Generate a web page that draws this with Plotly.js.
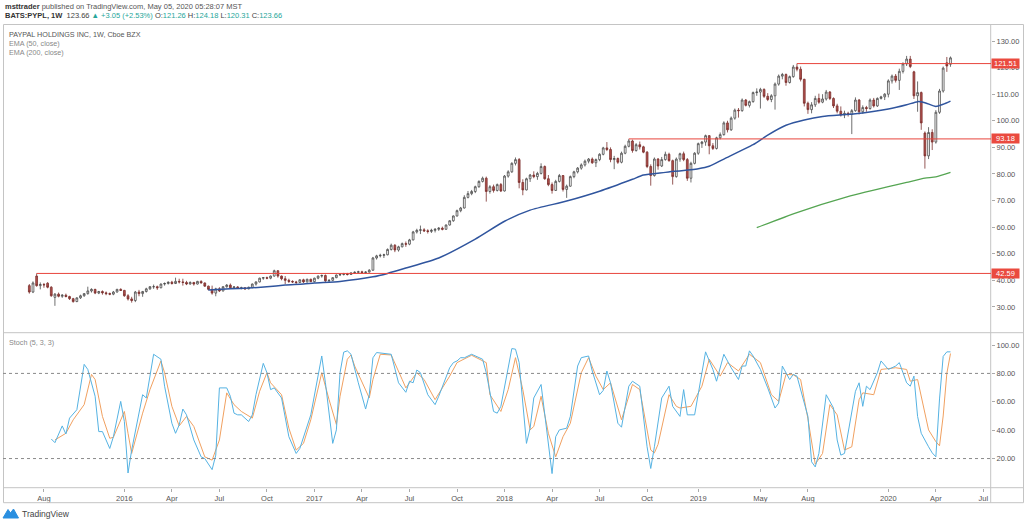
<!DOCTYPE html>
<html><head><meta charset="utf-8">
<script src="https://cdn.plot.ly/plotly-3.0.1.min.js"></script>
<style>html,body{margin:0;padding:0;background:#fff;}#chart{width:1024px;height:524px;}</style>
</head><body><div id="chart"></div>
<script>
// ---- DATA (weekly bars, BATS:PYPL, from week of 2015-07-06) ----
const firstWeek = '2015-07-06';
const opens = [
38.0,35.6,41.6,38.0,38.4,38.9,37.4,33.6,34.8,34.0,
34.4,33.9,33.1,32.0,33.4,34.2,35.0,36.0,36.6,35.2,
35.8,35.3,35.0,34.8,35.6,36.6,36.2,34.2,33.0,32.4,
35.6,35.0,35.8,36.8,37.6,37.6,37.2,38.6,38.8,39.3,
38.8,39.6,39.4,39.2,38.6,39.2,38.6,39.6,39.0,37.8,
36.6,35.2,36.8,36.0,37.6,38.2,37.2,37.5,37.0,37.2,
36.8,37.4,38.6,39.4,40.8,41.0,40.8,41.6,43.6,41.6,
40.6,40.0,39.6,39.4,39.2,40.2,39.4,40.4,39.5,40.8,
41.6,41.8,39.8,40.0,41.0,42.0,42.2,42.4,42.2,42.8,
43.0,43.2,42.9,43.1,43.8,48.4,49.2,49.4,49.6,51.6,
53.2,51.4,52.6,53.8,53.6,55.2,58.2,58.8,59.0,58.6,
58.4,58.8,59.2,59.6,59.2,60.8,62.4,64.2,66.2,67.2,
71.2,72.6,73.4,75.2,77.2,78.4,73.4,75.2,73.8,76.0,
73.6,79.2,80.8,84.0,85.4,76.8,74.0,78.2,79.6,79.0,
80.2,82.8,78.2,76.0,73.8,77.2,79.4,74.2,75.4,79.0,
80.8,82.2,83.4,84.8,85.6,84.2,85.4,87.4,89.8,89.2,
85.4,85.8,84.4,87.8,90.4,92.4,88.8,91.0,90.2,88.2,
82.8,79.4,85.6,83.0,85.4,87.4,85.0,79.0,85.6,87.6,
85.4,78.4,84.0,87.8,91.4,92.0,94.4,90.6,89.6,93.6,
94.8,99.2,96.6,101.0,104.0,103.8,107.8,105.8,107.2,110.6,
110.8,111.8,109.2,108.0,109.4,113.8,116.8,117.4,114.4,116.6,
120.2,119.4,115.6,106.6,104.2,106.0,108.4,107.0,108.2,110.8,
108.4,105.6,103.6,102.2,102.8,102.4,103.8,107.8,103.4,105.0,
104.6,107.8,105.6,108.4,109.0,110.0,115.0,116.8,115.2,118.6,
121.4,123.2,118.4,109.4,110.6,95.4,86.8,95.6,92.0,103.2,
111.2,121.8,121.26];
const highs = [
38.6,39.6,42.59,39.2,39.0,39.3,37.8,35.2,35.4,34.8,
35.0,34.2,33.4,33.6,34.6,35.2,37.6,37.0,36.8,36.0,
36.2,35.8,35.4,36.0,36.8,37.0,36.4,34.8,33.8,36.0,
36.4,36.0,37.2,37.8,38.4,38.0,38.8,39.2,39.6,39.8,
41.0,40.6,40.6,39.8,39.6,39.4,39.8,40.0,39.2,38.0,
38.0,37.2,37.4,37.8,38.6,38.8,37.8,37.8,37.6,37.4,
37.6,38.8,39.6,41.0,41.2,41.4,41.8,44.0,43.8,41.8,
41.6,40.6,40.0,39.8,40.4,40.6,40.6,40.6,41.0,41.8,
42.2,42.2,40.4,41.2,42.2,42.6,42.8,42.8,43.0,43.4,
43.6,43.6,43.4,44.2,48.8,49.6,50.0,50.0,52.0,53.8,
53.6,53.0,54.2,54.6,55.6,58.6,59.4,60.6,59.6,59.2,
59.4,59.6,60.0,60.2,61.0,62.6,64.4,66.6,67.6,72.0,
73.6,74.0,75.6,77.6,79.0,79.0,75.8,76.0,76.4,76.6,
79.6,81.4,84.4,86.2,86.0,78.0,78.6,80.0,81.0,80.8,
84.0,83.2,79.6,76.8,77.8,80.0,79.6,76.0,79.4,81.2,
82.6,84.0,85.4,86.0,86.2,85.8,87.8,90.2,92.0,90.0,
86.8,86.2,88.4,91.0,93.18,92.9,91.6,92.2,90.6,88.6,
83.6,86.2,86.0,86.4,88.4,88.0,85.4,86.2,88.0,88.4,
86.0,84.6,88.2,91.8,92.4,94.8,94.6,91.6,94.0,95.6,
99.8,100.0,101.6,104.6,104.8,108.4,108.2,107.6,111.0,112.2,
112.4,112.2,110.4,110.0,114.4,117.4,118.0,117.8,117.0,121.0,
121.51,120.4,115.8,107.2,107.0,109.4,110.2,110.0,111.6,111.2,
108.8,106.4,105.4,103.8,103.4,104.4,108.8,108.2,105.8,105.6,
108.4,108.6,108.8,109.4,110.4,115.6,117.4,117.6,119.6,122.0,
124.4,124.4,118.8,114.8,111.0,96.0,97.6,96.8,104.0,112.0,
120.4,124.0,124.18];
const lows = [
35.0,35.2,37.6,36.6,37.2,37.0,33.8,30.4,33.6,33.4,
33.6,32.6,31.6,31.8,33.0,33.8,34.6,35.4,34.8,34.8,
34.6,34.4,34.4,34.4,35.4,36.0,33.8,32.4,31.6,31.8,
34.0,33.8,35.4,36.4,36.8,36.4,37.0,38.0,38.4,38.4,
38.6,38.8,38.0,38.2,38.4,38.0,38.4,38.8,37.6,36.2,
34.6,34.0,35.6,35.8,37.2,36.8,36.8,36.9,36.6,36.4,
36.6,37.0,38.0,39.2,40.2,40.4,40.4,41.4,41.0,40.0,
38.6,39.0,39.0,38.6,39.0,39.0,39.2,39.4,39.2,40.4,
41.0,39.4,39.2,39.8,40.8,41.6,41.8,41.8,42.0,42.4,
42.6,42.6,42.4,42.9,43.6,47.8,48.6,48.4,49.4,51.2,
50.6,50.8,52.4,52.6,53.2,55.0,57.6,57.4,58.2,57.6,
57.8,58.0,58.6,58.8,59.0,60.6,62.0,64.0,65.6,67.0,
70.8,72.0,72.8,74.8,76.8,69.6,72.6,73.0,73.4,73.2,
73.4,78.6,80.4,83.2,74.6,72.0,73.8,77.0,78.4,77.8,
79.8,77.8,75.4,72.6,73.6,76.8,73.4,71.0,75.2,78.4,
80.2,81.6,82.8,84.0,83.8,82.6,84.8,87.0,88.6,84.4,
81.8,83.8,84.0,87.4,90.0,88.0,88.4,89.2,87.8,82.2,
75.6,79.0,81.6,82.6,85.0,84.6,76.0,78.6,84.6,84.8,
77.4,76.8,83.6,87.2,89.8,90.6,87.4,89.0,89.2,93.0,
94.4,95.6,96.2,100.4,101.2,103.4,105.4,105.0,106.8,109.4,
104.6,108.6,107.4,107.0,104.2,113.2,115.6,113.2,114.0,116.2,
118.6,114.8,105.4,102.6,102.8,105.2,106.4,106.6,107.6,107.8,
104.8,102.8,101.6,101.0,101.6,95.0,103.4,102.4,102.6,103.4,
104.2,105.0,105.2,108.0,107.8,108.8,114.0,114.4,111.6,117.8,
120.6,119.8,108.2,103.4,96.6,82.0,85.6,89.0,91.4,102.6,
110.6,118.4,120.31];
const closes = [
35.6,39.0,38.0,38.4,38.3,37.4,34.2,34.8,34.0,34.4,
33.9,33.1,32.0,33.4,34.2,35.0,36.0,36.6,35.2,35.8,
35.3,35.0,34.8,35.6,36.6,36.2,34.2,33.0,32.4,35.6,
35.0,35.8,36.8,37.6,37.6,37.2,38.6,38.8,39.3,38.8,
39.6,39.4,39.2,38.6,39.2,38.6,39.6,39.0,37.8,36.6,
35.2,36.8,36.0,37.6,38.2,37.2,37.5,37.0,37.2,36.8,
37.4,38.6,39.4,40.8,41.0,40.8,41.6,43.6,41.6,40.6,
40.0,39.6,39.4,39.2,40.2,39.4,40.4,39.5,40.8,41.6,
41.8,39.8,40.0,41.0,42.0,42.2,42.4,42.2,42.8,43.0,
43.2,42.9,43.1,43.8,48.4,49.2,49.4,49.6,51.6,53.2,
51.4,52.6,53.8,53.6,55.2,58.2,58.8,59.0,58.6,58.4,
58.8,59.2,59.6,59.2,60.8,62.4,64.2,66.2,67.2,71.2,
72.6,73.4,75.2,77.2,78.4,73.4,75.2,73.8,76.0,73.6,
79.2,80.8,84.0,85.4,76.8,74.0,78.2,79.6,79.0,80.2,
82.8,78.2,76.0,73.8,77.2,79.4,74.2,75.4,79.0,80.8,
82.2,83.4,84.8,85.6,84.2,85.4,87.4,89.8,89.2,85.4,
85.8,84.4,87.8,90.4,92.4,88.8,91.0,90.2,88.2,82.8,
79.4,85.6,83.0,85.4,87.4,85.0,79.0,85.6,87.6,85.4,
78.4,84.0,87.8,91.4,92.0,94.4,90.6,89.6,93.6,94.8,
99.2,96.6,101.0,104.0,103.8,107.8,105.8,107.2,110.6,110.8,
111.8,109.2,108.0,109.4,113.8,116.8,117.4,114.4,116.6,120.2,
119.4,115.6,106.6,104.2,106.0,108.4,107.0,108.2,110.8,108.4,
105.6,103.6,102.2,102.8,102.4,103.8,107.8,103.4,105.0,104.6,
107.8,105.6,108.4,109.0,110.0,115.0,116.8,115.2,118.6,121.4,
123.2,120.4,109.4,110.6,99.2,86.8,95.6,92.0,103.2,111.2,
119.8,120.61,123.66];

// EMA lines: [week index, value]
const ema50 = [[49,36.4],[55,36.8],[60,37.1],[65,37.6],[70,38.2],[75,38.6],[78,39.0],[85,39.6],[94,41.3],[98,42.6],[103,44.6],[112,48.4],[122,55.5],[130,62.2],[137,66.4],[147,69.8],[156,73.5],[165,78.0],[168,79.6],[174,80.6],[183,82.0],[186,82.9],[190,85.6],[198,91.0],[202,94.6],[207,98.3],[212,100.3],[217,101.6],[226,102.6],[235,104.4],[240,106.0],[243,107.2],[245,106.8],[248,105.4],[250,106.2],[252,107.4]];
const ema200 = [[199,59.8],[210,65.5],[223,71.1],[235,75.2],[240,76.8],[245,78.4],[248,78.9],[252,80.6]];

// Stochastic (5,3,3): [week index, value]
const stochK = [[6,33.8],[7,31.2],[9,43],[10,37.3],[11,48.5],[13,54.4],[15,86.4],[16,82.8],[18,63.9],[19,39],[20,39],[22,27.1],[23,35.4],[25,60.3],[26,46.1],[27,9.8],[28,26],[30,53.2],[31,65],[32,62.7],[33,76.9],[34,93.5],[36,90],[37,71],[39,44.9],[40,37.8],[41,43.7],[42,54.9],[43,50.8],[45,33.1],[47,21.2],[48,20],[50,12.2],[51,22.4],[52,69.8],[54,69.8],[55,63.9],[56,52],[57,50.8],[58,50.8],[60,46.1],[61,50.8],[62,65],[64,87.1],[65,80.5],[66,68.6],[67,69.8],[69,62.7],[71,35.4],[73,23.6],[74,27.1],[76,43.7],[77,50.8],[80,92.3],[81,73.4],[83,30.7],[84,40.2],[85,80.5],[86,95],[87,95.9],[88,93.5],[90,73.4],[92,54.9],[93,65],[94,91],[95,94.7],[99,93.5],[101,73.4],[103,66.7],[104,74.5],[105,73.4],[106,82.4],[107,80.5],[109,65],[111,58],[112,63.9],[115,84],[116,87.6],[117,88.8],[118,91.1],[119,91],[121,93.5],[124,90],[125,80.5],[127,53.2],[128,52],[129,56.8],[132,97.5],[133,97.1],[134,87.6],[136,30.7],[137,41.4],[138,62.7],[140,72.2],[141,52],[143,9.4],[144,35.4],[145,40.2],[147,41.4],[148,49.7],[150,85.2],[151,91.1],[153,92.3],[154,81.7],[156,65],[157,68],[158,81.7],[159,73.4],[161,44.9],[162,42.1],[164,71],[165,74.5],[167,71],[169,28.3],[170,13],[171,28.3],[173,62.7],[175,71],[176,56.8],[178,49.7],[179,68.6],[180,50.8],[182,50.8],[184,80.5],[185,95.2],[187,82.8],[188,74.5],[190,93.5],[192,84],[194,75.7],[195,85.2],[196,85.2],[197,95.9],[198,92.3],[200,82.8],[202,69.8],[204,55.6],[205,59.1],[206,85.2],[208,75.7],[209,79.3],[210,78.1],[213,49.7],[214,17.7],[215,14.1],[216,23.6],[218,65],[220,55.6],[221,33.1],[222,22.4],[223,23.6],[226,67.4],[227,73.4],[228,56.8],[229,71],[230,68.6],[232,80.5],[233,88.8],[235,82.8],[237,85.2],[238,87.6],[239,80.5],[240,73.4],[241,71],[242,78.1],[243,49.7],[244,37.8],[246,28.3],[247,24],[248,21.2],[249,62],[250,92],[251,95.2],[252,95.2]];
const stochD = [[7,33.1],[10,37.8],[12,47.3],[15,58],[17,79.3],[18,75.7],[20,49.7],[22,34.3],[23,35],[26,53.2],[27,37.8],[28,23.6],[31,52],[33,68.6],[36,88.8],[37,80.5],[39,56.8],[41,43],[43,49.7],[45,42.6],[48,21.2],[50,18.9],[52,33.1],[54,66.3],[56,58],[58,53.2],[61,48.5],[63,67.4],[65,80.5],[66,73.4],[69,65],[71,41.4],[73,26],[75,30.7],[77,47.3],[80,80.5],[82,61.5],[84,44],[85,63.9],[87,90],[88,93],[89,85.2],[93,62.7],[94,75.7],[96,93.5],[99,93],[102,75.7],[103,69.8],[106,80.5],[108,75.7],[111,61.5],[115,78.1],[117,87.6],[121,92.8],[125,87.6],[126,65],[129,53.2],[131,68.6],[133,91.1],[135,68.6],[137,40.2],[138,42.6],[140,63.9],[142,37.8],[144,21.2],[146,35.4],[148,44.9],[151,80.5],[153,91.1],[155,78.1],[157,68.6],[159,73.4],[162,47.3],[165,72.2],[167,68.6],[170,26],[171,24],[172,30],[175,65],[177,56.8],[178,55.6],[181,56.8],[184,71],[186,90],[189,78.1],[191,87.6],[194,81.7],[197,93.5],[200,87.6],[203,65],[205,60.3],[207,79.3],[209,79],[211,75.7],[213,48],[215,16],[217,23.6],[219,58],[221,50.8],[223,26],[225,28.3],[227,61.5],[228,66.3],[231,65],[233,82.8],[237,84],[240,82.8],[241,74.5],[243,75.7],[246,40.2],[248,31.9],[249,29],[250,50],[251,80],[252,94]];

// Horizontal levels and the week where each starts
const levelValues = [121.51, 93.18, 42.59];
const levelStartWeeks = [210, 164, 2];

// Axis ticks
const tickDates = ['2015-08-03','2016-01-04','2016-04-04','2016-07-04','2016-10-03','2017-01-02','2017-04-03','2017-07-03','2017-10-02','2018-01-01','2018-04-02','2018-07-02','2018-10-01','2019-01-07','2019-05-06','2019-08-05','2020-01-06','2020-04-06','2020-07-06'];
const tickLabels = ['Aug','2016','Apr','Jul','Oct','2017','Apr','Jul','Oct','2018','Apr','Jul','Oct','2019','May','Aug','2020','Apr','Jul'];
const priceTicks = [30,40,50,60,70,80,90,100,110,120,130];
const stochTicks = [20,40,60,80,100];
const stochBands = [80, 20];

// ---- BUILD ----
const base = Date.UTC(2015,6,6);
function weekDate(i){ return new Date(base + i*7*86400000).toISOString().slice(0,10); }
const dates = closes.map((_, i) => weekDate(i));
const xRange = ['2015-05-16 14:00', '2020-07-20 14:00'];

const W = 1024, H = 524, ML = 3, MR = 33, MT = 24, MB = 36;
const PW = W - ML - MR, PH = H - MT - MB;
const px = v => (v - ML) / PW;
const py = v => (H - MB - v) / PH;
const FONT = 'Liberation Sans, Arial, sans-serif';

const traces = [
  {type:'candlestick', x:dates, open:opens, high:highs, low:lows, close:closes,
   xaxis:'x', yaxis:'y', hoverinfo:'skip',
   increasing:{line:{color:'#4a4a4a', width:0.8}, fillcolor:'#ffffff'},
   decreasing:{line:{color:'#7a2e2c', width:0.8}, fillcolor:'#b3504c'}},
  {type:'scatter', mode:'lines', x:ema50.map(p=>weekDate(p[0])), y:ema50.map(p=>p[1]),
   xaxis:'x', yaxis:'y', line:{color:'#30559e', width:1.5, shape:'spline', smoothing:0.6}, hoverinfo:'skip'},
  {type:'scatter', mode:'lines', x:ema200.map(p=>weekDate(p[0])), y:ema200.map(p=>p[1]),
   xaxis:'x', yaxis:'y', line:{color:'#55a552', width:1.3, shape:'spline', smoothing:0.6}, hoverinfo:'skip'},
  {type:'scatter', mode:'lines', x:stochD.map(p=>weekDate(p[0])), y:stochD.map(p=>p[1]),
   xaxis:'x', yaxis:'y2', line:{color:'#f0a060', width:1}, hoverinfo:'skip'},
  {type:'scatter', mode:'lines', x:stochK.map(p=>weekDate(p[0])), y:stochK.map(p=>p[1]),
   xaxis:'x', yaxis:'y2', line:{color:'#55b2e2', width:1}, hoverinfo:'skip'}
];

const border = '#c4c4c4';
const shapes = [
  {type:'rect', xref:'paper', yref:'paper', x0:px(3.5), x1:px(1023.5), y0:py(502.7), y1:py(24.5), line:{color:border, width:1}},
  {type:'line', xref:'paper', yref:'paper', x0:px(3.5), x1:px(1023.5), y0:py(332.7), y1:py(332.7), line:{color:border, width:1}},
  {type:'line', xref:'paper', yref:'paper', x0:px(3.5), x1:px(1023.5), y0:py(487.7), y1:py(487.7), line:{color:border, width:1}},
  {type:'line', xref:'paper', yref:'paper', x0:px(990.7), x1:px(990.7), y0:py(502.7), y1:py(24.5), line:{color:border, width:1}}
];
stochBands.forEach(v => shapes.push({type:'line', xref:'paper', yref:'y2', x0:0, x1:1, y0:v, y1:v,
  line:{color:'#8a8a8a', width:1, dash:'3px,3px'}}));
levelValues.forEach((v, k) => shapes.push({type:'line', xref:'x', yref:'y', x0:weekDate(levelStartWeeks[k]), x1:xRange[1], y0:v, y1:v,
  line:{color:'#e8453c', width:1}}));

const teal = '#26a69a';
const annotations = [
  {xref:'paper', yref:'paper', x:px(3), y:py(6.5), xanchor:'left', yanchor:'middle', showarrow:false,
   text:"<b><span style='color:#333'>msttrader</span></b> published on TradingView.com, May 05, 2020 05:28:07 MST",
   font:{family:FONT, size:7.5, color:'#555'}},
  {xref:'paper', yref:'paper', x:px(3), y:py(15.8), xanchor:'left', yanchor:'middle', showarrow:false,
   text:"<b><span style='color:#333'>BATS:PYPL, 1W</span></b>  123.66 <span style='color:"+teal+"'>▲ +3.05 (+2.53%)</span> O:<span style='color:"+teal+"'>121.26</span> H:<span style='color:"+teal+"'>124.18</span> L:<span style='color:"+teal+"'>120.31</span> C:<span style='color:"+teal+"'>123.66</span>",
   font:{family:FONT, size:7.5, color:'#444'}},
  {xref:'paper', yref:'paper', x:px(7.3), y:py(34), xanchor:'left', yanchor:'middle', showarrow:false,
   text:'PAYPAL HOLDINGS INC, 1W, Cboe BZX', font:{family:FONT, size:7.2, color:'#555'}},
  {xref:'paper', yref:'paper', x:px(7.3), y:py(43.7), xanchor:'left', yanchor:'middle', showarrow:false,
   text:'EMA (50, close)', font:{family:FONT, size:7.2, color:'#888'}},
  {xref:'paper', yref:'paper', x:px(7.3), y:py(52.7), xanchor:'left', yanchor:'middle', showarrow:false,
   text:'EMA (200, close)', font:{family:FONT, size:7.2, color:'#888'}},
  {xref:'paper', yref:'paper', x:px(7.3), y:py(342.7), xanchor:'left', yanchor:'middle', showarrow:false,
   text:'Stoch (5, 3, 3)', font:{family:FONT, size:7.2, color:'#888'}},
  {xref:'paper', yref:'paper', x:px(19.5), y:py(513.5), xanchor:'left', yanchor:'middle', showarrow:false,
   text:'TradingView', font:{family:FONT, size:8.5, color:'#444'}}
];
levelValues.forEach(v => annotations.push({xref:'paper', yref:'y', x:1, y:v, xanchor:'left', yanchor:'middle',
  showarrow:false, text:v.toFixed(2), bgcolor:'#ea4a3f', width:27, height:9, borderpad:0, align:'center',
  font:{family:FONT, size:7.5, color:'#ffffff'}}));

// TradingView logo icon (decorative path in paper coords)
const logoPts = [[3,518],[8,509.5],[10.5,513],[13.5,509],[18.5,518]];
let path = 'M ' + logoPts.map(p => px(p[0]) + ',' + py(p[1])).join(' L ') + ' Z';
shapes.push({type:'path', xref:'paper', yref:'paper', path:path, fillcolor:'#2a8fe0', line:{color:'#2a8fe0', width:1}});

const axisFont = {family:FONT, size:7.5, color:'#555'};
const layout = {
  width:W, height:H, margin:{l:ML, r:MR, t:MT, b:MB},
  paper_bgcolor:'#fff', plot_bgcolor:'#fff', showlegend:false, hovermode:false,
  xaxis:{type:'date', range:xRange, anchor:'y2', domain:[0,1], tickvals:tickDates, ticktext:tickLabels,
    ticks:'outside', ticklen:3, tickcolor:'#aaa', tickfont:axisFont, showgrid:false, zeroline:false,
    showline:false, rangeslider:{visible:false}, fixedrange:true},
  yaxis:{domain:[0.3347,1], range:[20.3,136.4], side:'right', anchor:'x', tickvals:priceTicks, tickformat:'.2f',
    ticks:'outside', ticklen:3, tickcolor:'#aaa', tickfont:axisFont, showgrid:false, zeroline:false, showline:false},
  yaxis2:{domain:[0,0.3347], range:[-0.75,108.7], side:'right', anchor:'x', tickvals:stochTicks, tickformat:'.2f',
    ticks:'outside', ticklen:3, tickcolor:'#aaa', tickfont:axisFont, showgrid:false, zeroline:false, showline:false},
  shapes:shapes, annotations:annotations
};
Plotly.newPlot('chart', traces, layout, {staticPlot:true, displayModeBar:false});
</script></body></html>
